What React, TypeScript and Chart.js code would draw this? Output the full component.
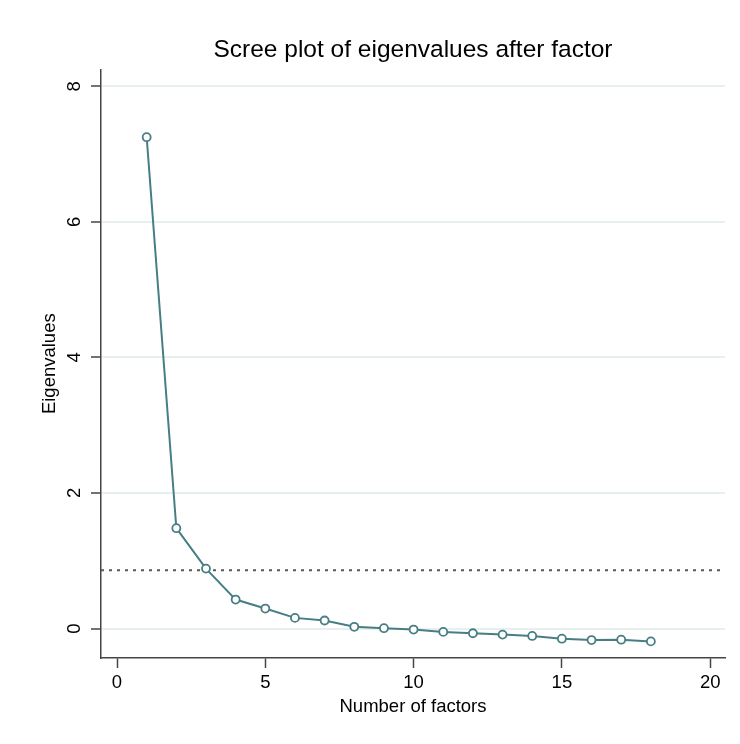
import React, { useEffect, useRef } from 'react';
import { Chart, registerables } from 'chart.js';

Chart.register(...registerables);

// ---- data ----
const factorNumbers = [1, 2, 3, 4, 5, 6, 7, 8, 9, 10, 11, 12, 13, 14, 15, 16, 17, 18];
const eigenvalues = [7.25, 1.48, 0.884, 0.427, 0.295, 0.157, 0.118, 0.025, 0.005, -0.015, -0.05, -0.07, -0.09, -0.11, -0.15, -0.17, -0.165, -0.19];
const referenceLevel = 0.86;
const xTickValues = [0, 5, 10, 15, 20];
const yTickValues = [0, 2, 4, 6, 8];
const xRange = [-0.54, 20.5];
const yRange = [-0.435, 8.25];

const chartTitle = 'Scree plot of eigenvalues after factor';
const xTitle = 'Number of factors';
const yTitle = 'Eigenvalues';

const FONT = '"Liberation Sans", Arial, Helvetica, sans-serif';
const LINE_COLOR = '#467e83';
const AXIS_COLOR = '#444444';
const GRID_COLOR = '#e8eff1';

export default function App() {
  const canvasRef = useRef<HTMLCanvasElement | null>(null);

  useEffect(() => {
    const canvas = canvasRef.current;
    if (!canvas) return;

    const screeData = factorNumbers.map((n, i) => ({ x: n, y: eigenvalues[i] }));
    const refData = xRange.map((x) => ({ x, y: referenceLevel }));

    const chart = new Chart(canvas, {
      type: 'line',
      data: {
        datasets: [
          {
            data: refData,
            borderColor: '#5a5a5a',
            borderWidth: 2,
            borderDash: [3, 5],
            pointRadius: 0,
            fill: false,
            order: 2,
          },
          {
            data: screeData,
            borderColor: LINE_COLOR,
            borderWidth: 2,
            pointRadius: 4,
            pointBorderWidth: 1.8,
            pointBackgroundColor: '#ffffff',
            pointBorderColor: LINE_COLOR,
            fill: false,
            tension: 0,
            order: 1,
          },
        ],
      },
      options: {
        animation: false,
        responsive: false,
        devicePixelRatio: 1,
        layout: { padding: { left: 0, right: 15, top: 0, bottom: 0 } },
        plugins: {
          legend: { display: false },
          tooltip: { enabled: false },
          title: {
            display: true,
            text: chartTitle,
            fullSize: false,
            color: '#000',
            font: { family: FONT, size: 24.5, weight: 'normal' },
            padding: { top: 36, bottom: 4 },
          },
        },
        scales: {
          x: {
            type: 'linear',
            min: xRange[0],
            max: xRange[1],
            afterBuildTicks: (scale: any) => {
              scale.ticks = xTickValues.map((v) => ({ value: v }));
            },
            afterFit: (scale: any) => {
              scale.height = 86;
            },
            grid: {
              drawOnChartArea: false,
              drawTicks: true,
              tickLength: 10,
              tickColor: AXIS_COLOR,
              tickWidth: 1.5,
            },
            border: { display: true, color: AXIS_COLOR, width: 1.5 },
            ticks: {
              color: '#000',
              padding: 4,
              font: { family: FONT, size: 18.5 },
              maxRotation: 0,
              minRotation: 0,
            },
            title: {
              display: true,
              text: xTitle,
              color: '#000',
              font: { family: FONT, size: 18.5 },
              padding: { top: 0, bottom: 26 },
            },
          },
          y: {
            type: 'linear',
            min: yRange[0],
            max: yRange[1],
            afterBuildTicks: (scale: any) => {
              scale.ticks = yTickValues.map((v) => ({ value: v }));
            },
            afterFit: (scale: any) => {
              scale.width = 101;
            },
            grid: {
              drawOnChartArea: true,
              color: GRID_COLOR,
              lineWidth: 2,
              drawTicks: true,
              tickLength: 10,
              tickColor: AXIS_COLOR,
              tickWidth: 1.5,
            },
            border: { display: true, color: AXIS_COLOR, width: 1.5 },
            ticks: {
              color: '#000',
              padding: 11,
              crossAlign: 'center',
              minRotation: 90,
              maxRotation: 90,
              font: { family: FONT, size: 18.5 },
            },
            title: {
              display: true,
              text: yTitle,
              color: '#000',
              font: { family: FONT, size: 18.5 },
              padding: { top: 39, bottom: 0 },
            },
          },
        },
      },
    } as any);

    return () => {
      chart.destroy();
    };
  }, []);

  return (
    <div style={{ position: 'fixed', left: 0, top: 0, width: 740, height: 744, background: '#ffffff' }}>
      <canvas ref={canvasRef} width={740} height={744} style={{ display: 'block', width: 740, height: 744 }} />
    </div>
  );
}
